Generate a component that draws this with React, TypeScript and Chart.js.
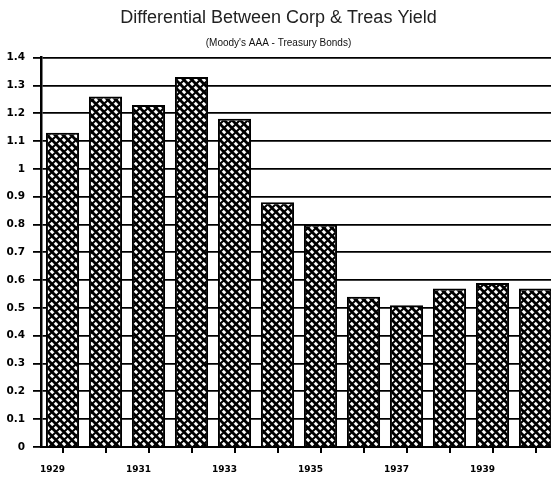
import React, { useEffect, useRef } from "react";
import { Chart, registerables } from "chart.js";

Chart.register(...registerables);

const years = ["1929", "1930", "1931", "1932", "1933", "1934", "1935", "1936", "1937", "1938", "1939", "1940"];
const differential = [1.13, 1.26, 1.23, 1.33, 1.18, 0.88, 0.8, 0.54, 0.51, 0.57, 0.59, 0.57];
const yMin = 0;
const yMax = 1.4;
const yStep = 0.1;

const titleText = "Differential Between Corp & Treas Yield";
const subtitleText = "(Moody's AAA - Treasury Bonds)";

function makeHatch(): CanvasPattern | string {
  const s = 8;
  const c = document.createElement("canvas");
  c.width = s;
  c.height = s;
  const g = c.getContext("2d");
  if (!g) return "#555";
  g.fillStyle = "#ffffff";
  g.fillRect(0, 0, s, s);
  g.strokeStyle = "#000000";
  g.lineWidth = 2.8;
  for (let k = -1; k <= 1; k++) {
    g.beginPath();
    g.moveTo(k * s, 0);
    g.lineTo(k * s + s, s);
    g.stroke();
  }
  g.lineWidth = 2.0;
  for (let k = -1; k <= 1; k++) {
    g.beginPath();
    g.moveTo(k * s + s, 0);
    g.lineTo(k * s, s);
    g.stroke();
  }
  return g.createPattern(c, "repeat") || "#555";
}

export default function App() {
  const ref = useRef<HTMLCanvasElement | null>(null);

  useEffect(() => {
    document.body.style.margin = "0";
    document.body.style.overflow = "hidden";
    document.documentElement.style.overflow = "hidden";
    const canvas = ref.current;
    if (!canvas) return;
    const hatch = makeHatch();
    const chart = new Chart(canvas, {
      type: "bar",
      data: {
        labels: years,
        datasets: [
          {
            data: differential,
            backgroundColor: hatch as any,
            borderColor: "#000",
            borderWidth: 2,
            barPercentage: 0.77,
            categoryPercentage: 1,
          },
        ],
      },
      options: {
        responsive: false,
        animation: false,
        devicePixelRatio: 1,
        layout: { padding: { left: 0, right: 3, top: 0, bottom: 0 } },
        plugins: {
          legend: { display: false },
          tooltip: { enabled: false },
          title: {
            display: true,
            text: titleText,
            color: "#222",
            font: { family: "'Liberation Sans', Arial, sans-serif", size: 18, weight: "normal" },
            padding: { top: 7, bottom: 0 },
          },
          subtitle: {
            display: true,
            text: subtitleText,
            color: "#111",
            font: { family: "'Liberation Sans', Arial, sans-serif", size: 10, weight: "normal" },
            padding: { top: 9, bottom: 8 },
          },
        },
        scales: {
          x: {
            type: "category",
            offset: true,
            grid: {
              display: true,
              drawOnChartArea: false,
              drawTicks: true,
              tickLength: 6,
              offset: false,
              color: "#000",
              lineWidth: 2,
            },
            border: { display: true, color: "#000", width: 2 },
            ticks: {
              autoSkip: false,
              maxRotation: 0,
              minRotation: 0,
              padding: 11,
              labelOffset: -10,
              color: "#000",
              font: { family: "'DejaVu Sans', sans-serif", size: 9, weight: "bold" },
              callback: (_v: any, i: number) => (i % 2 === 0 ? years[i] : ""),
            },
            afterFit: (scale: any) => {
              scale.height = 31;
            },
          },
          y: {
            min: yMin,
            max: yMax,
            grid: {
              display: true,
              drawTicks: true,
              tickLength: 8,
              color: "#000",
              lineWidth: 1.8,
            },
            border: { display: true, color: "#000", width: 2.5 },
            ticks: {
              stepSize: yStep,
              padding: 8,
              color: "#000",
              font: { family: "'DejaVu Sans', sans-serif", size: 10.5, weight: "bold" },
              callback: (v: any) => String(Number(Number(v).toFixed(1))),
            },
            afterFit: (scale: any) => {
              scale.width = 41;
            },
          },
        },
      },
    });
    return () => chart.destroy();
  }, []);

  return (
    <div style={{ width: 560, height: 478, position: "relative", background: "#fff" }}>
      <canvas ref={ref} width={560} height={478} style={{ width: 560, height: 478, display: "block" }} />
    </div>
  );
}
